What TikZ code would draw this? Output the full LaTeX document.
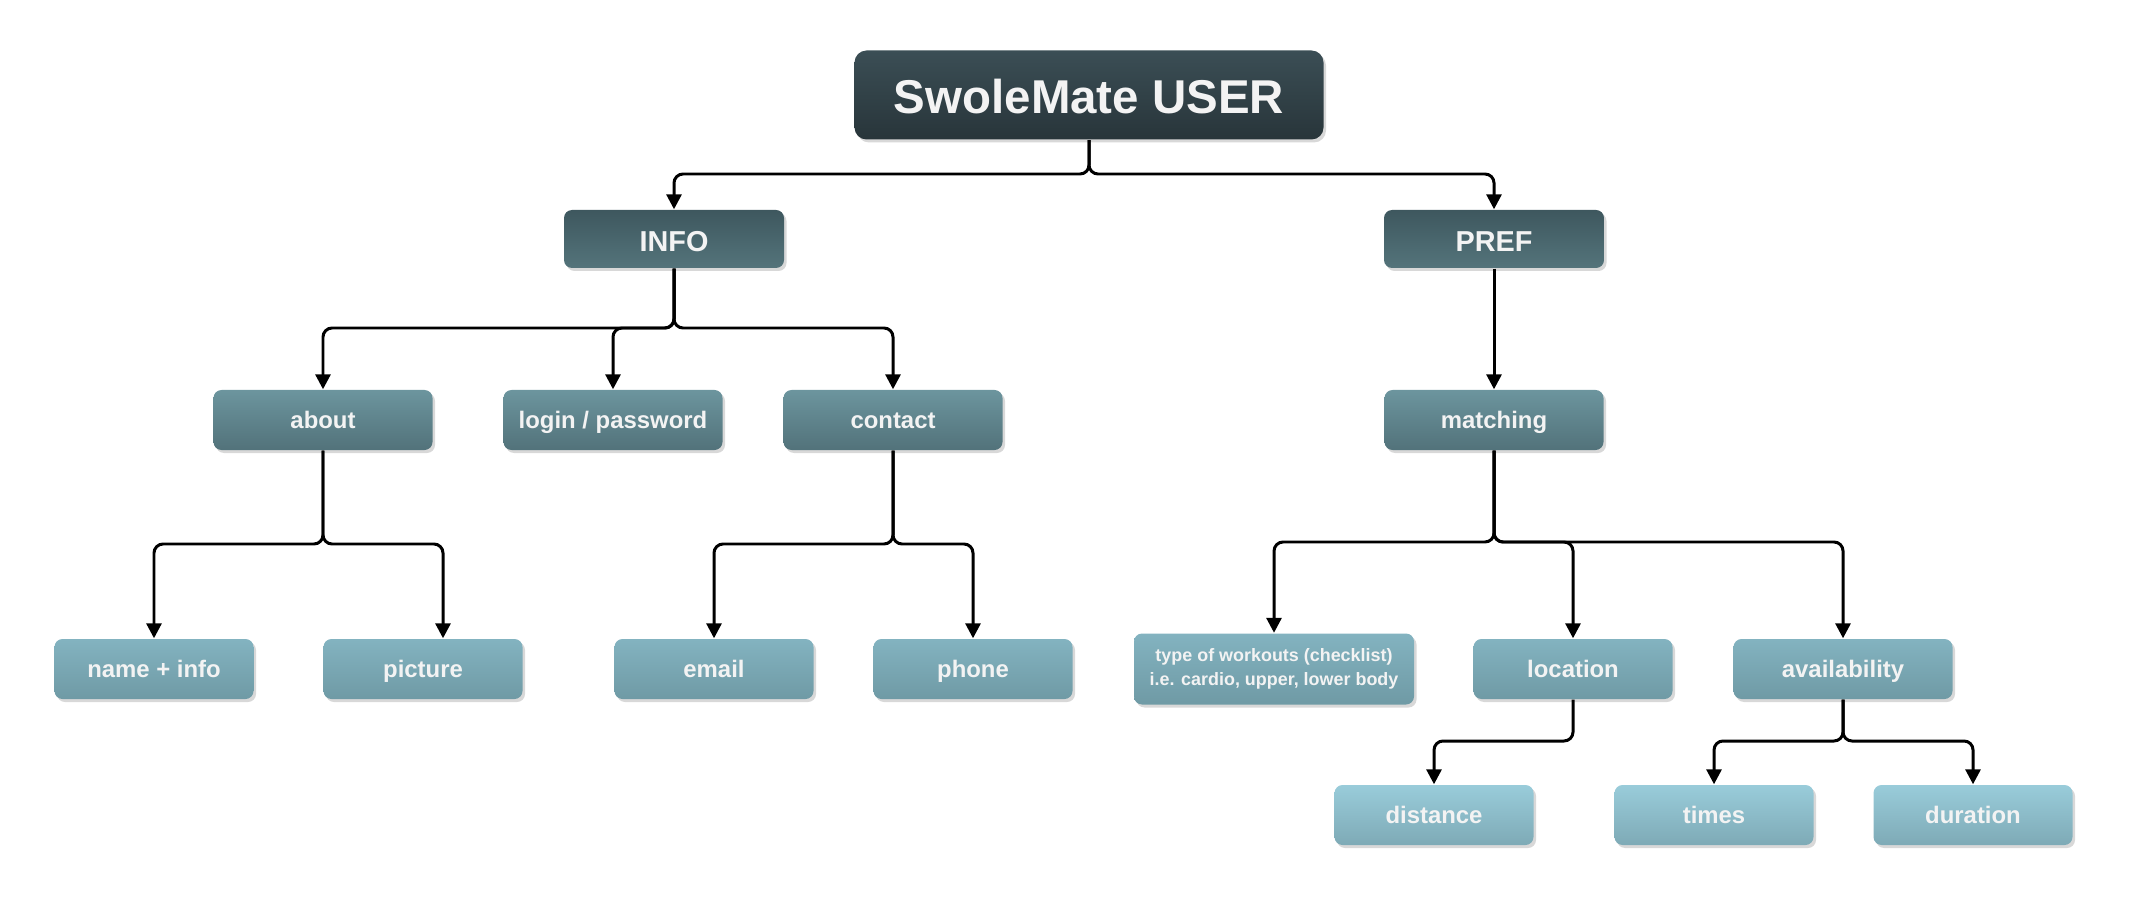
\documentclass[tikz,border=0pt]{standalone}
\usepackage{fontspec}
\setmainfont{Liberation Sans}
\usetikzlibrary{arrows.meta,shadows}
\definecolor{boxtext}{HTML}{F3F3F3}
\definecolor{rootTop}{HTML}{3B4E55}
\definecolor{rootBot}{HTML}{28353A}
\definecolor{grpTop}{HTML}{3E575E}
\definecolor{grpBot}{HTML}{54747B}
\definecolor{subTop}{HTML}{6C959E}
\definecolor{subBot}{HTML}{52727A}
\definecolor{leafTop}{HTML}{83B3C0}
\definecolor{leafBot}{HTML}{6F9AA5}
\definecolor{tipTop}{HTML}{99CCDA}
\definecolor{tipBot}{HTML}{7EAAB6}

\begin{document}
\begin{tikzpicture}[
    box/.style={rounded corners=0.08cm, minimum height=0.6cm, inner sep=0pt,
      align=center, text=boxtext, font=\fontsize{6.8}{8}\selectfont\bfseries,
      text height=0.7em, text depth=0.22em,
      drop shadow={shadow xshift=0.025cm, shadow yshift=-0.03cm, fill=black!30, opacity=0.5}},
    root/.style={box, minimum width=4.69cm, minimum height=0.89cm, rounded corners=0.12cm,
      top color=rootTop, bottom color=rootBot, font=\fontsize{13.5}{16}\selectfont\bfseries,
      text height=1.13em, text depth=0.1em},
    group/.style={box, minimum width=2.2cm, minimum height=0.58cm,
      top color=grpTop, bottom color=grpBot, font=\fontsize{8.2}{10}\selectfont\bfseries,
      text height=0.82em, text depth=0.1em},
    sub/.style={box, minimum width=2.19cm, top color=subTop, bottom color=subBot},
    leaf/.style={box, minimum width=1.99cm, top color=leafTop, bottom color=leafBot},
    tip/.style={box, minimum width=1.99cm, top color=tipTop, bottom color=tipBot},
    conn/.style={line width=0.85pt, rounded corners=0.09cm,
      -{Triangle[length=0.15cm,width=0.15cm]}}
  ]
  \useasboundingbox (0, 0) rectangle (21.37, -9.04);

  % levels
  \node[root] (user) at (10.89, -0.95) {SwoleMate USER};
  \node[group] (info) at (6.74, -2.39) {INFO};
  \node[group] (pref) at (14.94, -2.39) {PREF};

  \node[sub] (about) at (3.23, -4.20) {about};
  \node[sub] (login) at (6.13, -4.20) {login / password};
  \node[sub] (contact) at (8.93, -4.20) {contact};
  \node[sub] (matching) at (14.94, -4.20) {matching};

  \node[leaf] (nameinfo) at (1.54, -6.69) {name + info};
  \node[leaf] (picture) at (4.23, -6.69) {picture};
  \node[leaf] (email) at (7.14, -6.69) {email};
  \node[leaf] (phone) at (9.73, -6.69) {phone};
  \node[leaf, minimum width=2.8cm, minimum height=0.71cm, text height={}, text depth={},
    font=\fontsize{5.1}{7}\selectfont\bfseries] (workouts) at (12.74, -6.69)
    {type of workouts (checklist)\\i.e. cardio, upper, lower body};
  \node[leaf] (location) at (15.73, -6.69) {location};
  \node[leaf, minimum width=2.19cm] (avail) at (18.43, -6.69) {availability};

  \node[tip] (distance) at (14.34, -8.15) {distance};
  \node[tip] (times) at (17.14, -8.15) {times};
  \node[tip] (duration) at (19.73, -8.15) {duration};

  % connectors
  \foreach \c in {info, pref}
    \draw[conn] (user.south) -- (user.south |- 0, -1.74) -| (\c);
  \draw[conn] (pref) -- (matching);
  \foreach \c in {about, login, contact}
    \draw[conn] (info.south) -- (info.south |- 0, -3.28) -| (\c);
  \draw[conn] (about.south) -- (about.south |- 0, -5.44) -| (nameinfo);
  \draw[conn] (about.south) -- (about.south |- 0, -5.44) -| ([xshift=0.2cm]picture.north);
  \foreach \c in {email, phone}
    \draw[conn] (contact.south) -- (contact.south |- 0, -5.44) -| (\c);
  \foreach \c in {workouts, location, avail}
    \draw[conn] (matching.south) -- (matching.south |- 0, -5.42) -| (\c);
  \draw[conn] (location.south) -- (location.south |- 0, -7.41) -| (distance);
  \foreach \c in {times, duration}
    \draw[conn] (avail.south) -- (avail.south |- 0, -7.41) -| (\c);
\end{tikzpicture}
\end{document}
